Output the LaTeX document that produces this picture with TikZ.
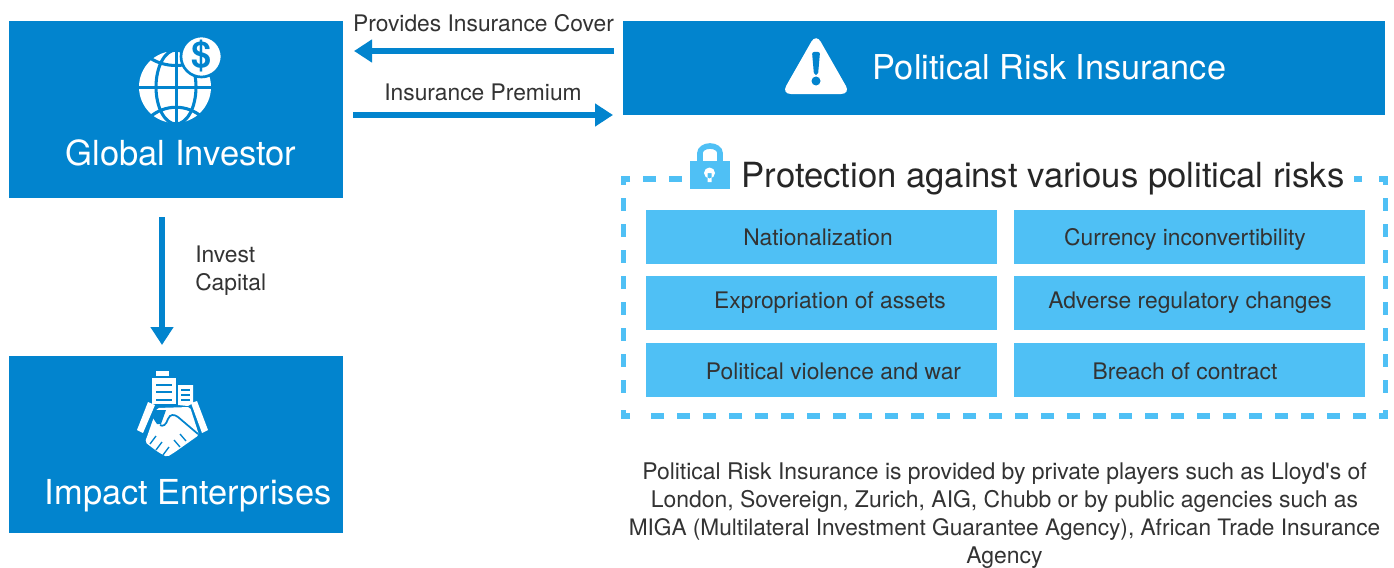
\documentclass[tikz,border=0pt]{standalone}
\usepackage{fontspec}
\usetikzlibrary{arrows.meta}
\setmainfont{TeX Gyre Heros}
\definecolor{blueD}{HTML}{0284CE}
\definecolor{blueL}{HTML}{4FC0F5}
\definecolor{ink}{HTML}{333333}
\begin{document}
\begin{tikzpicture}[x=0.75pt,y=-0.75pt,
 dark/.style={fill=blueD,draw=none,inner sep=0,outer sep=0,anchor=north west},
 risk/.style={fill=blueL,draw=none,inner sep=0,outer sep=0,anchor=north west,minimum width=263.25pt,minimum height=40.5pt},
 lab/.style={text=ink,inner sep=0,font=\fontsize{17.1}{21}\selectfont},
 risklab/.style={text=ink,inner sep=0,font=\fontsize{17.1}{21}\selectfont},
 arr/.style={draw=blueD,line width=4.5pt,-{Triangle[length=13.5pt,width=16.5pt]}},
 icon/.style={fill=white,draw=none},
 dashside/.style={blueL,line width=4.1pt,dash pattern=on 9.75pt off 9.75pt},
 dashcorner/.style={blueL,line width=4.1pt}]
\useasboundingbox (0,0) rectangle (1394,567);
\fill[white] (0,0) rectangle (1394,567);
\node[dark,minimum width=250.5pt,minimum height=132.75pt] (gi) at (9,21) {};
\node[dark,minimum width=250.5pt,minimum height=132.75pt] (ie) at (9,356) {};
\node[dark,minimum width=571.5pt,minimum height=70.5pt] (pri) at (623,21) {};
\node[text=white,inner sep=0,font=\fontsize{25.9}{30}\selectfont] (gitxt) at (181,153) {Global Investor};
\node[text=white,inner sep=0,font=\fontsize{25.8}{30}\selectfont] (ietxt) at (188,496) {Impact Enterprises};
\node[text=white,inner sep=0,font=\fontsize{25.7}{30}\selectfont] (pritxt) at (1049.5,67) {Political Risk Insurance};
% arrows
\coordinate (a1s) at (614,51);
\coordinate (a1e) at (354,51);
\coordinate (a2s) at (353,115);
\coordinate (a2e) at (613,115);
\coordinate (a3s) at (162,217);
\coordinate (a3e) at (162,345);
\draw[arr] (a1s) -- (a1e);
\draw[arr] (a2s) -- (a2e);
\draw[arr] (a3s) -- (a3e);
\node[lab] (t1) at (483.5,23) {Provides Insurance Cover};
\node[lab] (t2) at (483,92) {Insurance Premium};
\node[lab,align=left,anchor=west] (t3) at (195,270.5) {Invest\\Capital};
% dashed box
\draw[dashcorner] (630,178.8) -- (623.5,178.8) -- (623.5,185);
\draw[dashcorner] (1379,178.8) -- (1385.5,178.8) -- (1385.5,185);
\draw[dashcorner] (1379,416.2) -- (1385.5,416.2) -- (1385.5,410);
\draw[dashcorner] (630,416.2) -- (623.5,416.2) -- (623.5,410);
\draw[dashside] (643,178.8) -- (684,178.8);
\draw[dashside] (1354,178.8) -- (1362,178.8);
\draw[dashside] (623.5,198) -- (623.5,400);
\draw[dashside] (1385.5,198) -- (1385.5,400);
\draw[dashside] (1366,416.2) -- (640,416.2);
% lock
\draw[blueL,line width=4.2pt] (700,162) -- (700,153) arc[start angle=180,end angle=0,x radius=10,y radius=-7] -- (720,162);
\fill[blueL] (690,161) rectangle (730,189);
\fill[white] (709.5,173) circle[radius=5.5] (707.5,173) rectangle (711.5,182);
\node[inner sep=0,text=black!85,font=\fontsize{26}{30}\selectfont] (prot) at (1043,179) {Protection against various political risks};
% risks
\node[risk] (r1) at (646,210) {};
\node[risk] (r2) at (1014,210) {};
\node[risk] (r3) at (646,276) {};
\node[risk] (r4) at (1014,276) {};
\node[risk] (r5) at (646,343) {};
\node[risk] (r6) at (1014,343) {};
\node[risklab] (l1) at (818,237) {Nationalization};
\node[risklab] (l2) at (1185,239) {Currency inconvertibility};
\node[risklab] (l3) at (830,303) {Expropriation of assets};
\node[risklab] (l4) at (1190,303) {Adverse regulatory changes};
\node[risklab] (l5) at (833.5,371) {Political violence and war};
\node[risklab] (l6) at (1185,371) {Breach of contract};
\node[text=ink,inner sep=0,align=center,font=\fontsize{17.2}{21.2}\selectfont] (foot) at (1004.5,515.5) {Political Risk Insurance is provided by private players such as Lloyd\textquotesingle s of\\London, Sovereign, Zurich, AIG, Chubb or by public agencies such as\\{\fontsize{17}{21.2}\selectfont MIGA (Multilateral Investment Guarantee Agency), African Trade Insurance}\\Agency};
% warning icon
\path[icon,rounded corners=7pt] (816,33.5) -- (850.5,94) -- (781.5,94) -- cycle;
\path[fill=blueD,rounded corners=1.5pt] (812,52) -- (820,52) -- (818,75) -- (814,75) -- cycle;
\fill[blueD] (816,81) circle[radius=4.5];
% globe
\begin{scope}
\clip (139,53) rectangle (215,122);
\fill[white] (175,87) circle[radius=36];
\begin{scope}[blueD,line width=2.3pt]
\draw (136,87.5) -- (213,87.5);
\draw (176.5,50) -- (176.5,124);
\draw (176,87) ellipse[x radius=20,y radius=37];
\draw (150,58) .. controls (165,68) and (187,68) .. (202,58);
\draw (150,117) .. controls (165,104) and (187,104) .. (202,117);
\end{scope}
\end{scope}
\fill[white,draw=blueD,line width=2pt] (201.5,56.5) circle[radius=20.5];
\node[text=blueD,inner sep=0,font=\fontsize{27}{27}\selectfont\bfseries] (dollar) at (201.5,56.5) {\$};
% handshake icon
\fill[white] (156,371) rectangle (169,376);
\fill[white] (152,378) -- (176,378) -- (176,404) -- (152,404) -- cycle;
\fill[white] (178,385) -- (193,385) -- (193,403) -- (188,406) -- (178,405) -- cycle;
\foreach \yy in {385,392,400}{\draw[blueD,line width=1pt] (156,\yy) -- (172,\yy);}
\foreach \yy in {390,395,400}{\draw[blueD,line width=1pt] (181,\yy) -- (190,\yy);}
\fill[white] (148,402) -- (155,405) -- (143,433) -- (137,430) -- cycle;
\fill[white] (191,403) -- (197,401) -- (208,430) -- (202,433) -- cycle;
\fill[white,rounded corners=1.5pt] (157,408) -- (190,407) -- (199,435) -- (175,452) -- (167,457) -- (158,452) -- (150,446) -- (145,442) -- (148,434) -- cycle;
\fill[blueD] (155,410) -- (166,410) -- (161,424) -- (157,424) -- (153,418) -- cycle;
\draw[blueD,line width=1.3pt] (160,425) .. controls (163,427) and (166,425) .. (168,419) .. controls (170,414) and (174,414) .. (178,417) -- (198,434);
\foreach \p/\q in {150/444,156/450,163/455}{\draw[blueD,line width=1pt] (\p,\q) -- ++(6,-8);}
\foreach \p/\q in {180/447,186/441}{\draw[blueD,line width=1pt] (\p,\q) -- ++(-6,-7);}
\end{tikzpicture}
\end{document}
